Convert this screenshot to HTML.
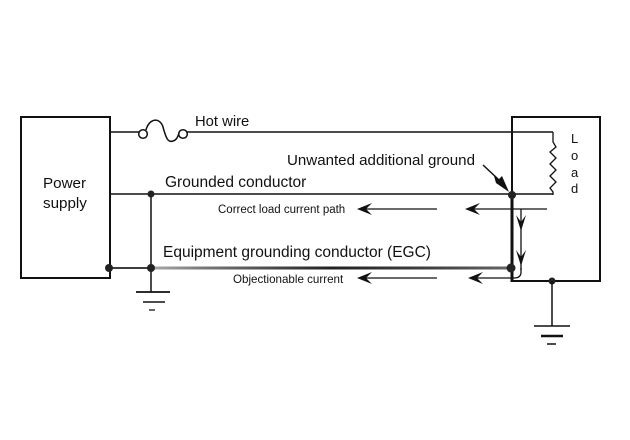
<!DOCTYPE html>
<html>
<head>
<meta charset="utf-8">
<style>
  html, body { margin: 0; padding: 0; background: #fff; }
  svg { display: block; }
  text { font-family: "Liberation Sans", Arial, sans-serif; fill: #111; }
</style>
</head>
<body>
<svg width="630" height="440" viewBox="0 0 630 440" xmlns="http://www.w3.org/2000/svg">
  <defs>
    <linearGradient id="egc" x1="151" y1="0" x2="512" y2="0" gradientUnits="userSpaceOnUse">
      <stop offset="0" stop-color="#aaa"/>
      <stop offset="0.15" stop-color="#777"/>
      <stop offset="0.5" stop-color="#222"/>
      <stop offset="0.8" stop-color="#444"/>
      <stop offset="1" stop-color="#666"/>
    </linearGradient>
  </defs>
  <rect width="630" height="440" fill="#fff"/>

  <!-- Power supply box -->
  <rect x="21" y="117" width="89" height="161" fill="none" stroke="#111" stroke-width="2"/>
  <text x="43" y="188" font-size="15.2">Power</text>
  <text x="43" y="208" font-size="15.2">supply</text>

  <!-- Load box -->
  <rect x="512" y="117" width="88" height="164" fill="none" stroke="#111" stroke-width="2"/>
  <line x1="512" y1="194" x2="512" y2="282" stroke="#111" stroke-width="3"/>
  <text x="571" y="143" font-size="13">L</text>
  <text x="571" y="160" font-size="13">o</text>
  <text x="571" y="177" font-size="13">a</text>
  <text x="571" y="193" font-size="13">d</text>

  <!-- Hot wire with fuse -->
  <line x1="110" y1="132" x2="139" y2="132" stroke="#111" stroke-width="1.5"/>
  <circle cx="143" cy="134" r="4.3" fill="none" stroke="#111" stroke-width="1.5"/>
  <path d="M146,130 C149,118 160,117 163,127 C166,138 168,143 173,141 C177,140 178,136 179,133" fill="none" stroke="#111" stroke-width="1.5"/>
  <circle cx="183" cy="134" r="4.3" fill="none" stroke="#111" stroke-width="1.5"/>
  <line x1="187" y1="132" x2="553" y2="132" stroke="#111" stroke-width="1.5"/>
  <text x="195" y="126" font-size="14.8">Hot wire</text>

  <!-- Resistor -->
  <polyline points="553,132 553,142 556,147 550,152 556,158 550,164 556,170 550,176 556,182 550,188 553,192 553,195" fill="none" stroke="#111" stroke-width="1.3"/>

  <!-- Grounded conductor -->
  <line x1="110" y1="194" x2="553" y2="194" stroke="#111" stroke-width="1.5"/>
  <text x="165" y="187" font-size="15.5">Grounded conductor</text>
  <text x="287" y="165" font-size="15.1">Unwanted additional ground</text>

  <!-- Unwanted arrow -->
  <path d="M483,165 L498,179" stroke="#111" stroke-width="1.5" fill="none"/>
  <path d="M509,192 L496,183 L494,176 L499,179 L502,176 Z" fill="#111"/>

  <!-- Vertical at left ground -->
  <line x1="151" y1="194" x2="151" y2="292" stroke="#111" stroke-width="1.5"/>

  <!-- EGC line -->
  <line x1="110" y1="268" x2="151" y2="268" stroke="#222" stroke-width="1.8"/>
  <line x1="151" y1="268" x2="512" y2="268" stroke="url(#egc)" stroke-width="3"/>
  <text x="163" y="257" font-size="15.5">Equipment grounding conductor (EGC)</text>

  <!-- Dots -->
  <circle cx="151" cy="194" r="3.5" fill="#222"/>
  <circle cx="151" cy="268" r="4" fill="#222"/>
  <circle cx="109" cy="268" r="4" fill="#222"/>
  <circle cx="512" cy="195" r="4" fill="#222"/>
  <circle cx="511" cy="268" r="4.5" fill="#222"/>
  <circle cx="552" cy="281" r="3.5" fill="#222"/>

  <!-- Left ground symbol -->
  <line x1="136" y1="292" x2="170" y2="292" stroke="#111" stroke-width="1.8"/>
  <line x1="143" y1="302" x2="165" y2="302" stroke="#111" stroke-width="1.5"/>
  <line x1="149" y1="310" x2="155" y2="310" stroke="#333" stroke-width="1.5"/>

  <!-- Right ground symbol -->
  <line x1="552" y1="281" x2="552" y2="326" stroke="#111" stroke-width="1.5"/>
  <line x1="534" y1="326" x2="570" y2="326" stroke="#111" stroke-width="1.5"/>
  <line x1="541" y1="336" x2="563" y2="336" stroke="#111" stroke-width="2.5"/>
  <line x1="547" y1="344" x2="556" y2="344" stroke="#111" stroke-width="1.5"/>

  <!-- Correct load current path -->
  <text x="218" y="213" font-size="11.5">Correct load current path</text>
  <line x1="366" y1="209" x2="437" y2="209" stroke="#111" stroke-width="1.3"/>
  <path d="M357,209 L372,203 L366,209 L372,215 Z" fill="#111"/>
  <line x1="474" y1="209" x2="547" y2="209" stroke="#111" stroke-width="1.3"/>
  <path d="M465,209 L480,203 L474,209 L480,215 Z" fill="#111"/>

  <!-- Down path -->
  <line x1="521" y1="209" x2="521" y2="270" stroke="#111" stroke-width="1.3"/>
  <path d="M521,231 L516,215 L521,222 L526,215 Z" fill="#111"/>
  <path d="M521,266 L516,250 L521,257 L526,250 Z" fill="#111"/>
  <path d="M521,268 L521,272 Q521,278 514,278 L476,278" fill="none" stroke="#111" stroke-width="1.3"/>

  <!-- Objectionable current -->
  <text x="233" y="283" font-size="11.6">Objectionable current</text>
  <line x1="366" y1="278" x2="437" y2="278" stroke="#111" stroke-width="1.3"/>
  <path d="M357,278 L372,272 L366,278 L372,284 Z" fill="#111"/>
  <path d="M468,278 L483,272 L477,278 L483,284 Z" fill="#111"/>
</svg>
</body>
</html>
